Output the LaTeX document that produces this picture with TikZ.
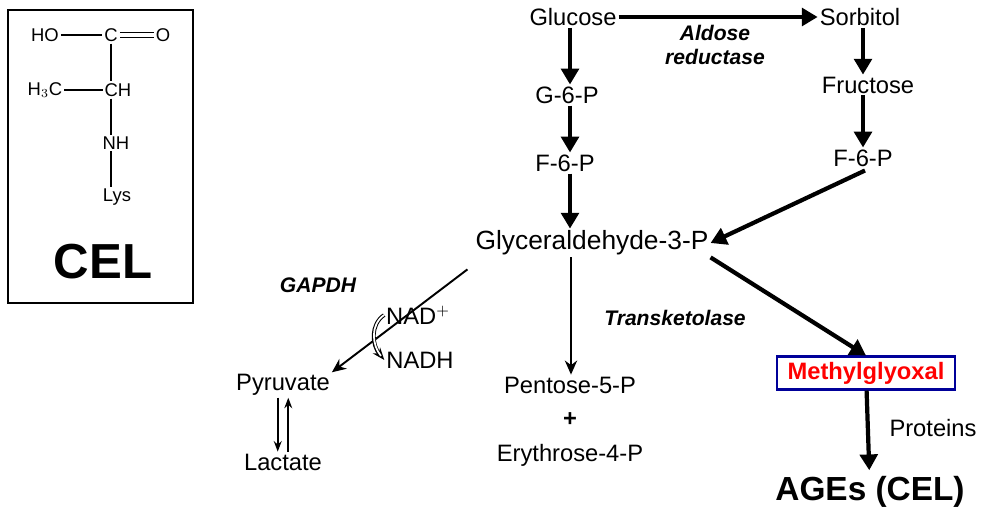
\documentclass[tikz,border=0pt]{standalone}
\usepackage{fontspec}
\setmainfont{Liberation Sans}
\usetikzlibrary{arrows.meta}
\begin{document}
\begin{tikzpicture}[x=0.02cm,y=-0.02cm,
  lbl/.style={font=\fontsize{13.5}{15}\selectfont, inner sep=1pt},
  sm/.style={font=\fontsize{10.5}{12}\selectfont, inner sep=1pt},
  enz/.style={font=\fontsize{12}{14}\selectfont\bfseries\itshape, inner sep=1pt, align=center},
  thk/.style={line width=2.4pt,-{Triangle[length=9pt,width=10pt]}},
  thn/.style={line width=1.1pt,-{Stealth[length=8pt,width=7pt]}},
  bond/.style={line width=0.7pt}]
\useasboundingbox (0,0) rectangle (997,521);
\fill[white] (0,0) rectangle (997,521);
% CEL box
\draw[line width=0.8pt] (8,10) rectangle (193,303);
\node[sm] (ho) at (45,35) {HO};
\node[sm] (c) at (111,35) {C};
\node[sm] (o) at (163,35) {O};
\node[sm] (h3c) at (45,90) {H$_3$C};
\node[sm] (ch) at (118,90) {CH};
\node[sm] (nh) at (116,143) {NH};
\node[sm] (lys) at (117,197) {Lys};
\node[font=\fontsize{28}{30}\selectfont\bfseries] (cel) at (103,262) {CEL};
\draw[bond] (ho) -- (c);
\draw[bond,double,double distance=2pt] (c) -- (o);
\draw[bond] (c.south) -- (c.south |- ch.north);
\draw[bond] (h3c) -- (ch);
\draw[bond] (c.south |- ch.south) -- (c.south |- nh.north);
\draw[bond] (c.south |- nh.south) -- (c.south |- lys.north);
% pathway
\node[lbl] (glc) at (573,17) {Glucose};
\node[lbl] (sor) at (860,17) {Sorbitol};
\node[enz] (ar) at (715,45) {Aldose\\reductase};
\node[lbl] (g6p) at (567,95) {G-6-P};
\node[lbl] (f6p) at (565,163) {F-6-P};
\node[lbl] (fru) at (868,85) {Fructose};
\node[lbl] (f6pr) at (863,158) {F-6-P};
\node[lbl,font=\fontsize{15}{17}\selectfont] (gap) at (592,243) {Glyceraldehyde-3-P};
\node[enz] (gapdh) at (318,285) {GAPDH};
\node[lbl] (nad) at (418,315) {NAD$^{\mathbf{+}}$};
\node[lbl] (nadh) at (420,360) {NADH};
\node[lbl] (pyr) at (283,385) {Pyruvate};
\node[lbl] (lac) at (283,462) {Lactate};
\node[lbl] (pen) at (570,385) {Pentose-5-P};
\node[lbl] (plus) at (570,420) {\textbf{+}};
\node[lbl] (ery) at (570,455) {Erythrose-4-P};
\node[enz] (tk) at (675,318) {Transketolase};
\node[lbl, draw=blue!60!black, line width=1.3pt, text=red, font=\fontsize{13.5}{15}\selectfont\bfseries, inner xsep=6pt, inner ysep=3pt] (mg) at (866,373) {Methylglyoxal};
\node[lbl] (prot) at (933,428) {Proteins};
\node[font=\fontsize{19}{21}\selectfont\bfseries] (ages) at (870,492) {AGEs (CEL)};
\draw[thk] (glc.east) -- (sor.west);
\draw[thk] (glc.south -| 570,0) -- (g6p.north -| 570,0);
\draw[thk] (g6p.south -| 570,0) -- (f6p.north -| 570,0);
\draw[thk] (f6p.south -| 570,0) -- (gap.north -| 570,0);
\draw[thk] (sor.south -| 863,0) -- (fru.north -| 863,0);
\draw[thk] (fru.south -| 863,0) -- (f6pr.north -| 863,0);
\draw[thk] (f6pr.south) ++(2,2) coordinate (fs) (fs) -- (gap.east);
\draw[thk] (gap.south east) -- (mg.north);
\draw[thk] (mg) -- (ages);
\draw[thn] (gap.south west) ++(-6,12) coordinate (gs) (gs) -- (pyr.north east);
\draw[thn] (gap.south -| 571,0) -- (pen.north -| 571,0);
\draw[line width=0.9pt,-{Stealth[length=6pt]}] ([xshift=-3pt]pyr.south) -- ([xshift=-3pt]lac.north);
\draw[line width=0.9pt,-{Stealth[length=6pt]}] ([xshift=3pt]lac.north) -- ([xshift=3pt]pyr.south);
\draw[line width=2.2pt,-{Stealth[length=7pt]}] (nad.west) .. controls (370,325) and (372,345) .. (nadh.west);
\draw[line width=1pt,white,shorten >=3pt] (nad.west) .. controls (370,325) and (372,345) .. (nadh.west);
\end{tikzpicture}
\end{document}
